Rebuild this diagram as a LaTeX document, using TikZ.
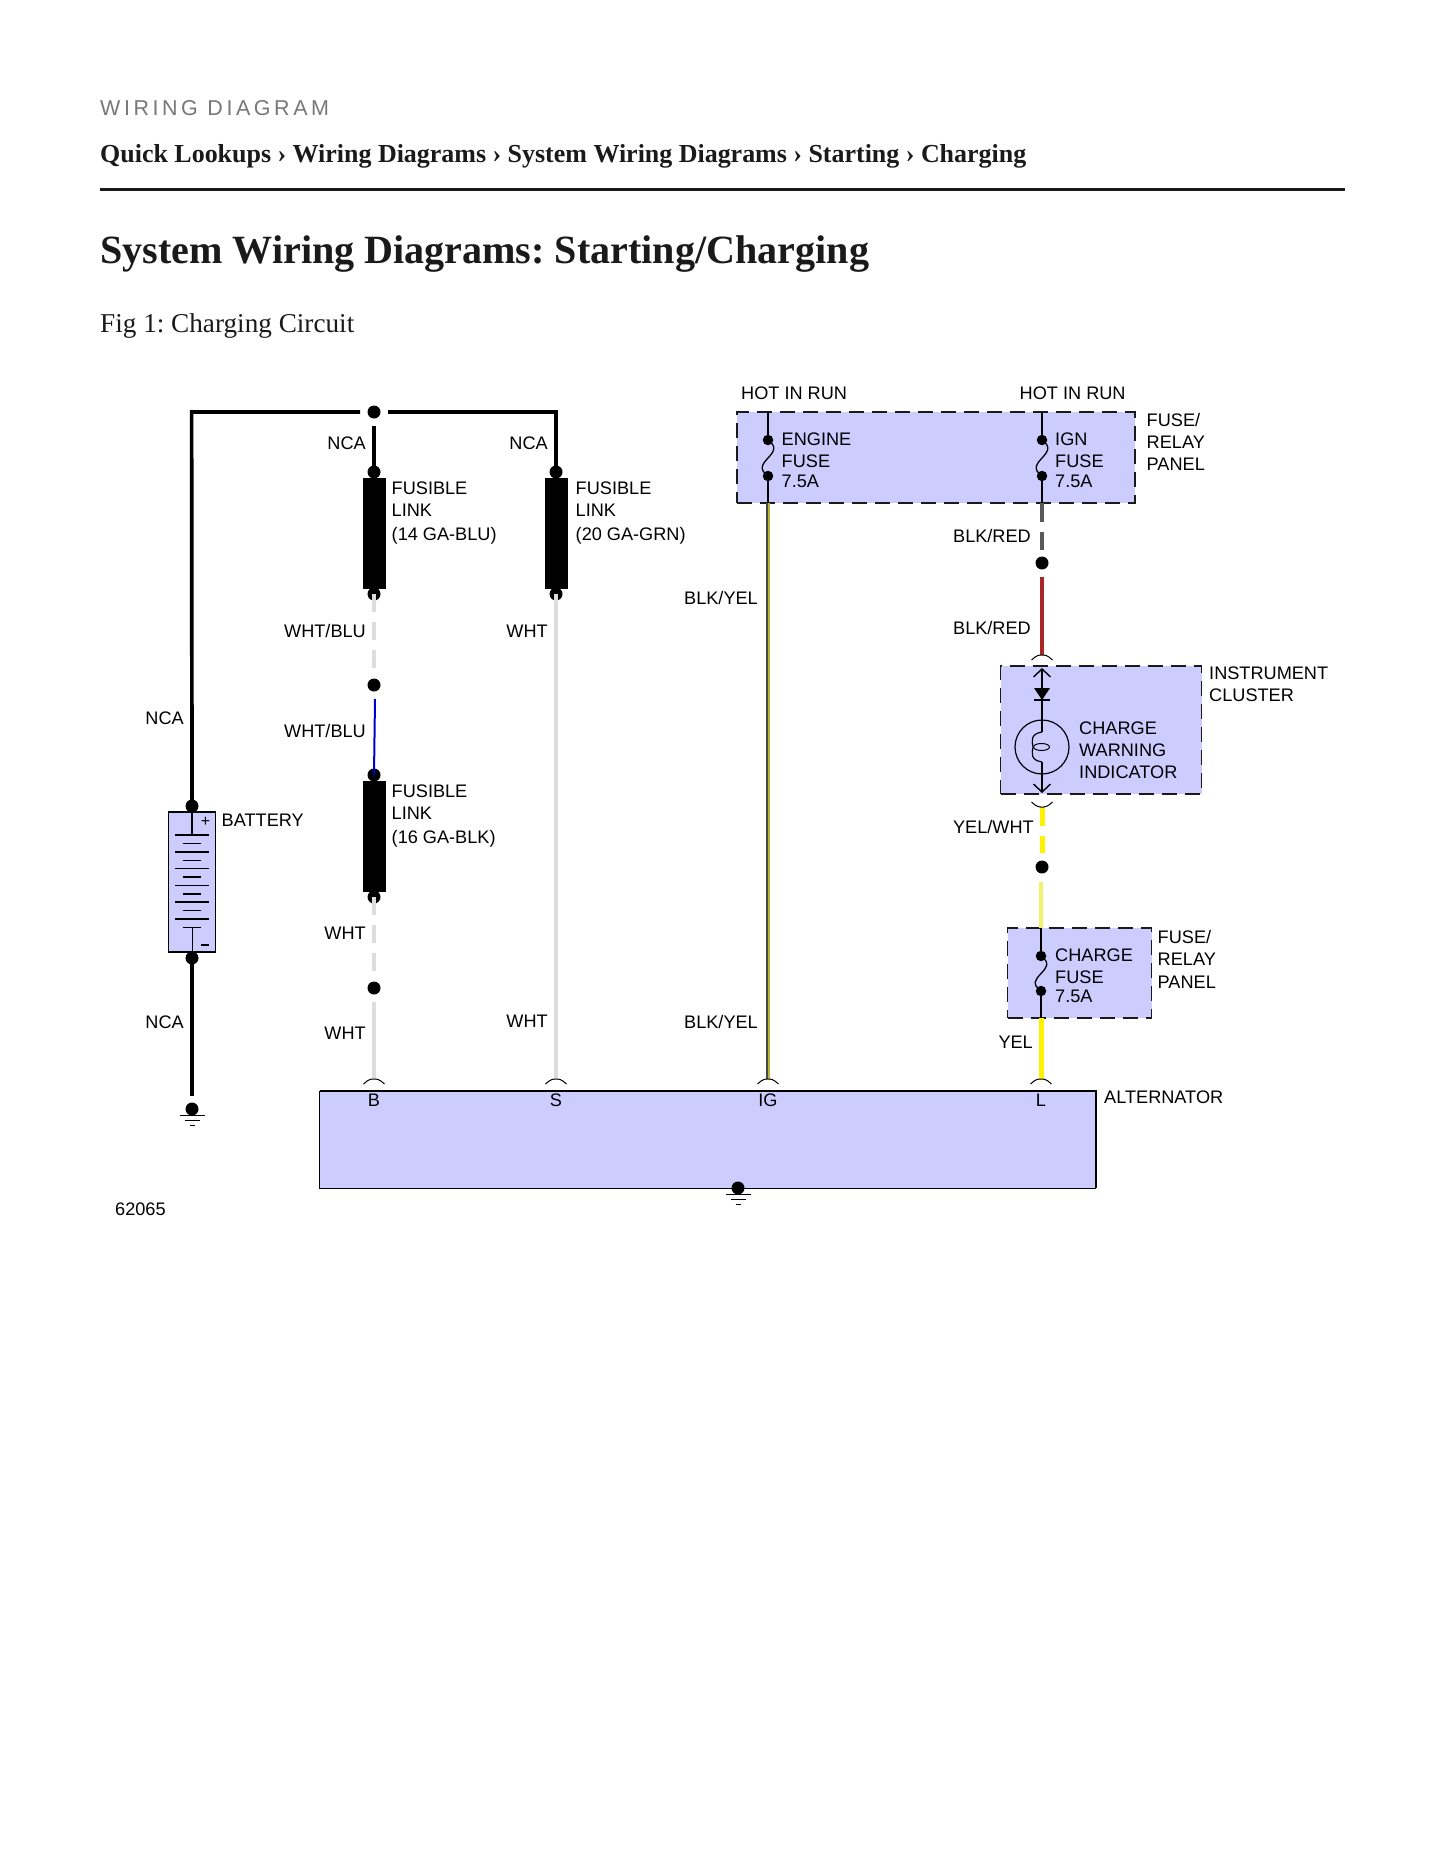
\documentclass[tikz,border=0pt]{standalone}
\usepackage{fontspec}
\usepackage{xcolor}
\usetikzlibrary{arrows.meta,shapes.geometric}
\setmainfont{Liberation Serif}
\newfontfamily\wirefont{Liberation Sans}
\definecolor{panelblue}{HTML}{CCCCFF}
\definecolor{inkdark}{HTML}{1A1A1A}
\definecolor{wirewhite}{HTML}{DDDDDD}
\definecolor{wirered}{HTML}{AA2626}
\definecolor{wirepale}{HTML}{F2F26E}
\tikzset{
    splice/.style={circle, fill=black, inner sep=0pt, minimum size=13pt},
    fusedot/.style={splice, minimum size=10.5pt},
    fuselink/.style={rectangle, fill=black, inner sep=0pt, outer sep=0pt, minimum width=23pt, minimum height=111pt},
    panel/.style={rectangle, fill=panelblue, draw=inkdark, line width=1.8pt,
        dash pattern=on 15pt off 8pt, inner sep=0pt, outer sep=0pt},
    wlabel/.style={inner sep=0pt, align=left, anchor=west, text=black,
        font={\wirefont\fontsize{18.15pt}{22pt}\selectfont}},
    rlabel/.style={wlabel, anchor=east, align=right},
    heading/.style={inner sep=0pt, anchor=base west, text=inkdark},
    ncawire/.style={draw=black, line width=3.7pt, line cap=butt, line join=miter},
    whtwire/.style={draw=wirewhite, line width=3.7pt},
    dashwire/.style={dash pattern=on 18pt off 10pt},
    finewire/.style={draw=black, line width=1.8pt},
    plate/.style={draw=black, line width=1pt},
    thickplate/.style={draw=black, line width=2.2pt},
}
\begin{document}
\frenchspacing
\begin{tikzpicture}[x=1pt, y=-1pt]

\useasboundingbox [fill=white] (0,0) rectangle (1445,1870);

\node [heading, text=black!53, font={\wirefont\addfontfeature{LetterSpace=16.5}\fontsize{21.5pt}{25pt}\selectfont}] (kicker) at (100,115.5) {WIRING DIAGRAM};
\node [heading, font={\bfseries\fontsize{25.95pt}{32pt}\selectfont}] (crumbs) at (100,163) {Quick Lookups › Wiring Diagrams › System Wiring Diagrams › Starting › Charging};
\coordinate (rule-l) at (100,189.5);
\coordinate (rule-r) at (1345,189.5);
\draw [draw=inkdark, line width=3pt] (rule-l) -- (rule-r);
\node [heading, font={\bfseries\fontsize{40.1pt}{48pt}\selectfont}] (title) at (100,263.5) {System Wiring Diagrams: Starting/Charging};
\node [heading, font={\fontsize{27.2pt}{32pt}\selectfont}] (figcap) at (100,332) {Fig 1: Charging Circuit};

\node [panel, minimum width=397.5pt, minimum height=91pt] (fusepanel) at (936,457.5) {};
\node [panel, minimum width=201pt, minimum height=128pt] (cluster) at (1101,730) {};
\node [panel, minimum width=144pt, minimum height=90pt] (chargepanel) at (1079.5,973) {};
\node [rectangle, fill=panelblue, draw=black, line width=1pt, inner sep=0pt, outer sep=0pt, minimum width=776pt, minimum height=97pt] (alternator) at (707.5,1139.5) {};
\node [rectangle, fill=panelblue, draw=black, line width=1.2pt, inner sep=0pt, outer sep=0pt, minimum width=47.5pt, minimum height=140pt] (battery) at (192,882) {};
\draw [draw=black, line width=2pt] (alternator.north west) -- (alternator.north east) -- (alternator.south east);

\foreach \m/\x/\y in {link1/374.5/533.5, link2/556/533.5, link3/374.5/836.5}
  \node [fuselink] (\m) at (\x,\y) {};

\foreach \m/\x/\y in {top/374/412, link1in/374/472, link2in/556/472, link1out/374/594, link2out/556/594,
    wbsplice/374/685, link3in/374/775, link3out/374/897, whtsplice/374/988,
    battplus/192/806, battminus/192/958, brsplice/1042/563, ywsplice/1042/867,
    gndbatt/192/1109, gndalt/738/1188}
  \node [splice] (\m) at (\x,\y) {};

\foreach \m/\x/\y in {engA/768/440, engB/768/476, ignA/1042/440, ignB/1042/476, chgA/1041/956, chgB/1041/991}
  \node [fusedot] (\m) at (\x,\y) {};

\foreach \m/\x/\y in {top-l/360/412, top-r/388/412, corner-l/191.6/412, corner-r/556/412, drop/374/426,
    wb-end/374/670, blu-start/375/699, wht-end/374/973, wht-start/374/1002, gnd-wire/192/1096,
    pin-B/374/1079, pin-S/556/1079, pin-IG/768/1079, pin-L/1041/1079,
    eng-top/768/412, eng-bot/768/503, ign-top/1042/412, ign-bot/1042/503,
    br-end/1042/550, red-start/1042/577, pin-in/1042/655, pin-out/1042/807,
    yw-end/1042/853, pale-start/1041/882, chg-top/1041/928, chg-bot/1041/1018,
    clu-top/1042/668, clu-bot/1042/793}
  \coordinate (\m) at (\x,\y);

\draw [ncawire] (top-l) -- (corner-l) -- (battplus.center);
\draw [ncawire] (top-r) -- (corner-r) -- (link2in.center);
\draw [ncawire] (drop) -- (link1in.center);
\draw [ncawire] (battminus.center) -- (gnd-wire);

\draw [whtwire, dashwire] (link1out.center) -- (wb-end);
\draw [draw=blue!80!black, line width=2pt] (blu-start) -- (link3in.center);
\draw [whtwire, dashwire] (link3out.center) -- (wht-end);
\draw [whtwire] (wht-start) -- (pin-B);
\draw [whtwire] (link2out.center) -- (pin-S);

\draw [draw=black!72, line width=2pt] ([xshift=-0.7pt]eng-bot) -- ([xshift=-0.7pt]pin-IG);
\draw [draw=yellow!70!black, line width=1.6pt] ([xshift=1pt]eng-bot) -- ([xshift=1pt]pin-IG);

\draw [draw=black!65, line width=3.7pt, dash pattern=on 19pt off 10pt] (ign-bot) -- (br-end);
\draw [draw=wirered, line width=3.7pt] (red-start) -- (pin-in);
\draw [draw=yellow, line width=5pt, dash pattern=on 19pt off 10pt] (pin-out) -- (yw-end);
\draw [draw=wirepale, line width=4.5pt] (pale-start) -- (chg-top);
\draw [draw=yellow, line width=5pt] (chg-bot) -- (pin-L);

\foreach \a/\b/\c/\d in {eng-top/engA/engB/eng-bot, ign-top/ignA/ignB/ign-bot, chg-top/chgA/chgB/chg-bot} {
  \draw [finewire] (\a) -- (\b.center);
  \draw [line width=1.3pt] (\b.center) .. controls +(20,14) and +(-20,-14) .. (\c.center);
  \draw [finewire] (\c.center) -- (\d);
}

\foreach \p in {pin-B, pin-S, pin-IG, pin-L, pin-in}
  \draw [line width=1pt, rounded corners=3pt] ([shift={(-10.5,5)}]\p) -- ++(6,-5) -- ++(9,0) -- ++(6,5);
\draw [line width=1pt, rounded corners=3pt] ([shift={(-10.5,-5)}]pin-out) -- ++(6,5) -- ++(9,0) -- ++(6,-5);

% charge warning lamp
\node [circle, draw=black, line width=1.2pt, inner sep=0pt, minimum size=54pt] (lamp) at (1042,747) {};
\node [ellipse, draw=black, line width=1pt, inner sep=0pt, minimum width=16pt, minimum height=7pt] (coil) at (1041.5,747) {};
\coordinate (coil-a) at (1042,732);
\coordinate (coil-b) at (1042,762);
\draw [finewire, {Straight Barb[length=8pt,width=17pt,line width=1.4pt]}-] (clu-top) -- (coil-a);
\draw [finewire, -{Straight Barb[length=8pt,width=17pt,line width=1.4pt]}] (coil-b) -- (clu-bot);
\draw [line width=1.2pt] (coil-a) .. controls +(-12,2) and +(-1,-6) .. (coil.west);
\draw [line width=1.2pt] (coil.west) .. controls +(-1,6) and +(-12,-2) .. (coil-b);
\coordinate (diode-l) at (1034,688);
\coordinate (diode-r) at (1050,688);
\coordinate (diode-t) at (1042,700);
\coordinate (bar-l) at (1034,700);
\coordinate (bar-r) at (1050,700);
\fill (diode-l) -- (diode-r) -- (diode-t) -- cycle;
\draw [line width=1.2pt] (bar-l) -- (bar-r);

% battery cells
\foreach \y/\w/\s in {835/17/thickplate, 843.3/9/plate, 852/17/thickplate, 860.3/9/plate, 868.7/17/plate, 877/9/thickplate,
    885.3/17/plate, 894/9/thickplate, 902/17/thickplate, 910.3/9/plate, 919/17/thickplate, 927.3/9/plate}
  \draw [\s] (192-\w,\y) -- (192+\w,\y);
\coordinate (cell-first) at (192,835);
\coordinate (cell-last) at (192,927.3);
\draw [draw=black, line width=1.8pt] (battplus.center) -- (cell-first);
\draw [plate] (cell-last) -- (battery.south);
\node [inner sep=0pt, font={\wirefont\fontsize{16pt}{16pt}\selectfont}] (plus) at (205.5,821.5) {+};
\coordinate (minus-l) at (201,945);
\coordinate (minus-r) at (209,945);
\draw [thickplate] (minus-l) -- (minus-r);

\foreach \g/\x/\y in {gndbatt/192/1109, gndalt/738/1188} {
  \draw [plate] (\x-12.5,\y+6) -- (\x+12.5,\y+6);
  \draw [plate] (\x-7.5,\y+11.5) -- (\x+7.5,\y+11.5);
  \draw [plate] (\x-2.5,\y+16.5) -- (\x+2.5,\y+16.5);
}

\foreach \n/\x/\y/\l in {a/366/443/NCA, b/548/443/NCA, c/184/718/NCA, d/184/1022/NCA,
    e/366/631/{WHT/BLU}, f/366/731/{WHT/BLU}, g/548/631/WHT, h/548/1021.5/WHT, i/366/933/WHT, j/366/1033/WHT,
    k/758/598/{BLK/YEL}, l/758/1022/{BLK/YEL}, m/1031/536/{BLK/RED}, n/1031/628/{BLK/RED},
    o/1034/827/{YEL/WHT}, p/1033/1042/YEL}
  \node [rlabel] (lbl-\n) at (\x,\y) {\l};

\foreach \n/\x/\y/\l in {hot1/741/393/HOT IN RUN, hot2/1019.5/393/HOT IN RUN, batt/221.5/820/BATTERY, alt/1104/1097/ALTERNATOR, num/115/1209/62065,
    fl1/391.5/513/{FUSIBLE\\LINK\\[1.5pt](14 GA-BLU)}, fl2/575.5/513/{FUSIBLE\\LINK\\[1.5pt](20 GA-GRN)}, fl3/391.5/816/{FUSIBLE\\LINK\\[1.5pt](16 GA-BLK)},
    eng/781.5/460/{ENGINE\\FUSE\\[-2pt]7.5A}, ign/1055/460/{IGN\\FUSE\\[-2pt]7.5A}, chg/1055/976/{CHARGE\\FUSE\\[-3pt]7.5A},
    pan1/1146.5/442/{FUSE/\\RELAY\\PANEL}, pan2/1157.5/959.5/{FUSE/\\RELAY\\[1pt]PANEL},
    clus/1209/684/{INSTRUMENT\\CLUSTER}, warn/1079/750/{CHARGE\\WARNING\\INDICATOR}}
  \node [wlabel] (lbl-\n) at (\x,\y) {\l};

\foreach \l/\x in {B/374, S/556, IG/768, L/1041}
  \node [wlabel, anchor=center] (term-\l) at (\x,1100) {\l};

\end{tikzpicture}
\end{document}
